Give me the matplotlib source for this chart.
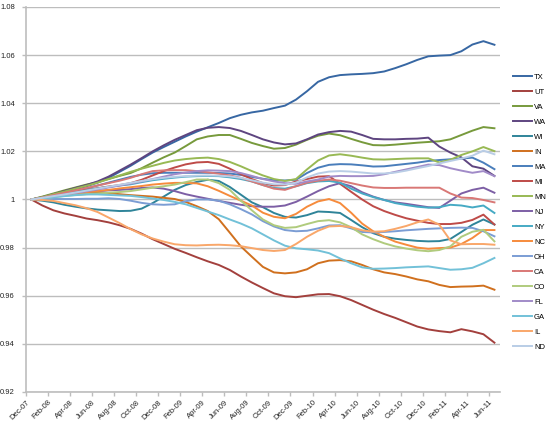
import numpy as np
import matplotlib
matplotlib.use("Agg")
import matplotlib.pyplot as plt

plt.rcParams['font.family'] = ['Liberation Sans', 'DejaVu Sans']

# tick labels, every second month from Dec-07 to Jun-11
month_labels = ["Dec-07", "Feb-08", "Apr-08", "Jun-08", "Aug-08", "Oct-08", "Dec-08",
                "Feb-09", "Apr-09", "Jun-09", "Aug-09", "Oct-09", "Dec-09", "Feb-10",
                "Apr-10", "Jun-10", "Aug-10", "Oct-10", "Dec-10", "Feb-11", "Apr-11",
                "Jun-11"]

# monthly index values (Dec-07 = 1)
tx = [1.0000, 1.0008, 1.0018, 1.0030, 1.0042, 1.0055, 1.0070, 1.0090, 1.0115, 1.0140,
      1.0168, 1.0195, 1.0218, 1.0240, 1.0262, 1.0282, 1.0300, 1.0318, 1.0338, 1.0352,
      1.0362, 1.0369, 1.0380, 1.0390, 1.0415, 1.0450, 1.0489, 1.0508, 1.0517, 1.0520,
      1.0522, 1.0525, 1.0532, 1.0546, 1.0562, 1.0580, 1.0595, 1.0598, 1.0600, 1.0616,
      1.0644, 1.0658, 1.0643]
ut = [1.0000, 0.9975, 0.9955, 0.9942, 0.9932, 0.9921, 0.9914, 0.9905, 0.9893, 0.9878,
      0.9858, 0.9835, 0.9815, 0.9795, 0.9778, 0.9760, 0.9743, 0.9728, 0.9707, 0.9680,
      0.9655, 0.9632, 0.9610, 0.9598, 0.9594, 0.9600, 0.9606, 0.9607, 0.9598, 0.9582,
      0.9562, 0.9542, 0.9524, 0.9508, 0.9490, 0.9472, 0.9460, 0.9453, 0.9448, 0.9461,
      0.9452, 0.9440, 0.9405]
va = [1.0000, 1.0012, 1.0025, 1.0038, 1.0050, 1.0062, 1.0072, 1.0085, 1.0098, 1.0110,
      1.0130, 1.0153, 1.0175, 1.0195, 1.0222, 1.0250, 1.0262, 1.0268, 1.0268, 1.0252,
      1.0235, 1.0222, 1.0211, 1.0214, 1.0228, 1.0248, 1.0265, 1.0274, 1.0267, 1.0252,
      1.0238, 1.0226, 1.0225, 1.0228, 1.0232, 1.0236, 1.0239, 1.0242, 1.0250, 1.0268,
      1.0286, 1.0301, 1.0296]
wa = [1.0000, 1.0010, 1.0022, 1.0035, 1.0048, 1.0060, 1.0075, 1.0095, 1.0120, 1.0145,
      1.0172, 1.0200, 1.0225, 1.0248, 1.0268, 1.0288, 1.0298, 1.0301, 1.0297, 1.0285,
      1.0268, 1.0250, 1.0237, 1.0229, 1.0233, 1.0250, 1.0270, 1.0280, 1.0285, 1.0282,
      1.0268, 1.0252, 1.0250, 1.0250, 1.0252, 1.0253, 1.0257, 1.0220, 1.0195, 1.0175,
      1.0138, 1.0128, 1.0098]
wi = [1.0000, 0.9995, 0.9988, 0.9978, 0.9970, 0.9963, 0.9958, 0.9955, 0.9952, 0.9953,
      0.9962, 0.9985, 1.0012, 1.0040, 1.0060, 1.0073, 1.0082, 1.0077, 1.0052, 1.0020,
      0.9988, 0.9968, 0.9944, 0.9928, 0.9925, 0.9935, 0.9950, 0.9948, 0.9944, 0.9915,
      0.9885, 0.9860, 0.9845, 0.9837, 0.9832, 0.9828, 0.9826, 0.9827, 0.9836, 0.9865,
      0.9895, 0.9917, 0.9896]
in_ = [1.0000, 1.0006, 1.0012, 1.0018, 1.0024, 1.0028, 1.0030, 1.0027, 1.0022, 1.0018,
       1.0015, 1.0012, 1.0007, 1.0002, 0.9990, 0.9972, 0.9952, 0.9918, 0.9862, 0.9805,
       0.9762, 0.9720, 0.9697, 0.9693, 0.9697, 0.9710, 0.9735, 0.9746, 0.9748, 0.9743,
       0.9728, 0.9710, 0.9697, 0.9690, 0.9680, 0.9668, 0.9660, 0.9645, 0.9636, 0.9638,
       0.9639, 0.9642, 0.9625]
ma = [1.0000, 1.0008, 1.0017, 1.0026, 1.0036, 1.0046, 1.0058, 1.0070, 1.0082, 1.0094,
      1.0103, 1.0109, 1.0111, 1.0111, 1.0111, 1.0111, 1.0111, 1.0110, 1.0108, 1.0102,
      1.0094, 1.0086, 1.0080, 1.0079, 1.0082, 1.0110, 1.0132, 1.0144, 1.0147, 1.0146,
      1.0142, 1.0137, 1.0138, 1.0143, 1.0148, 1.0153, 1.0160, 1.0164, 1.0167, 1.0170,
      1.0174, 1.0153, 1.0126]
mi = [1.0000, 1.0008, 1.0016, 1.0024, 1.0032, 1.0040, 1.0047, 1.0054, 1.0060, 1.0068,
      1.0082, 1.0100, 1.0118, 1.0133, 1.0146, 1.0154, 1.0156, 1.0148, 1.0128, 1.0105,
      1.0085, 1.0068, 1.0058, 1.0060, 1.0075, 1.0085, 1.0095, 1.0097, 1.0065, 1.0032,
      1.0000, 0.9972, 0.9952, 0.9936, 0.9922, 0.9912, 0.9903, 0.9898, 0.9898, 0.9903,
      0.9915, 0.9937, 0.9896]
mn = [1.0000, 1.0010, 1.0022, 1.0033, 1.0045, 1.0057, 1.0070, 1.0085, 1.0100, 1.0115,
      1.0128, 1.0140, 1.0152, 1.0162, 1.0168, 1.0172, 1.0174, 1.0168, 1.0156, 1.0138,
      1.0118, 1.0100, 1.0085, 1.0077, 1.0085, 1.0125, 1.0162, 1.0183, 1.0188, 1.0182,
      1.0174, 1.0167, 1.0166, 1.0168, 1.0170, 1.0171, 1.0171, 1.0154, 1.0165, 1.0185,
      1.0200, 1.0218, 1.0201]
nj = [1.0000, 1.0005, 1.0012, 1.0020, 1.0027, 1.0032, 1.0035, 1.0038, 1.0040, 1.0043,
      1.0048, 1.0050, 1.0045, 1.0035, 1.0022, 1.0012, 1.0003, 0.9994, 0.9986, 0.9978,
      0.9972, 0.9970, 0.9970, 0.9975, 0.9990, 1.0012, 1.0035, 1.0055, 1.0068, 1.0055,
      1.0030, 1.0012, 0.9998, 0.9988, 0.9982, 0.9975, 0.9968, 0.9965, 0.9995, 1.0025,
      1.0040, 1.0049, 1.0028]
ny = [1.0000, 1.0006, 1.0014, 1.0022, 1.0030, 1.0038, 1.0046, 1.0052, 1.0058, 1.0063,
      1.0072, 1.0080, 1.0086, 1.0091, 1.0095, 1.0097, 1.0098, 1.0097, 1.0092, 1.0085,
      1.0075, 1.0060, 1.0048, 1.0045, 1.0055, 1.0068, 1.0075, 1.0077, 1.0070, 1.0045,
      1.0025, 1.0010, 0.9998, 0.9985, 0.9977, 0.9970, 0.9966, 0.9968, 0.9978, 0.9975,
      0.9967, 0.9975, 0.9944]
nc = [1.0000, 1.0006, 1.0012, 1.0018, 1.0024, 1.0030, 1.0035, 1.0040, 1.0046, 1.0051,
      1.0056, 1.0062, 1.0066, 1.0069, 1.0069, 1.0067, 1.0055, 1.0036, 1.0015, 0.9995,
      0.9975, 0.9945, 0.9928, 0.9922, 0.9940, 0.9970, 0.9992, 1.0002, 0.9985, 0.9945,
      0.9900, 0.9868, 0.9845, 0.9825, 0.9812, 0.9800, 0.9795, 0.9798, 0.9800, 0.9815,
      0.9840, 0.9873, 0.9873]
oh = [1.0000, 1.0001, 1.0002, 1.0002, 1.0002, 1.0003, 1.0003, 1.0005, 1.0002, 0.9995,
      0.9986, 0.9980, 0.9978, 0.9980, 0.9993, 1.0000, 1.0000, 0.9995, 0.9980, 0.9960,
      0.9938, 0.9910, 0.9888, 0.9873, 0.9868, 0.9870, 0.9880, 0.9892, 0.9893, 0.9880,
      0.9865, 0.9863, 0.9865, 0.9868, 0.9872, 0.9875, 0.9878, 0.9880, 0.9882, 0.9883,
      0.9882, 0.9868, 0.9847]
ca = [1.0000, 1.0008, 1.0018, 1.0028, 1.0038, 1.0048, 1.0058, 1.0068, 1.0078, 1.0090,
      1.0105, 1.0118, 1.0121, 1.0122, 1.0122, 1.0118, 1.0113, 1.0107, 1.0100, 1.0090,
      1.0075, 1.0060, 1.0045, 1.0040, 1.0055, 1.0070, 1.0078, 1.0083, 1.0078, 1.0068,
      1.0058, 1.0050, 1.0048, 1.0048, 1.0049, 1.0049, 1.0049, 1.0049, 1.0025, 1.0008,
      1.0006, 0.9998, 0.9988]
co = [1.0000, 1.0005, 1.0010, 1.0015, 1.0019, 1.0022, 1.0025, 1.0028, 1.0031, 1.0035,
      1.0042, 1.0049, 1.0055, 1.0062, 1.0072, 1.0083, 1.0083, 1.0068, 1.0040, 0.9995,
      0.9955, 0.9917, 0.9893, 0.9882, 0.9885, 0.9898, 0.9910, 0.9914, 0.9905, 0.9885,
      0.9855, 0.9835, 0.9818, 0.9805, 0.9796, 0.9789, 0.9785, 0.9790, 0.9805, 0.9845,
      0.9866, 0.9874, 0.9826]
fl = [1.0000, 1.0006, 1.0013, 1.0020, 1.0027, 1.0034, 1.0042, 1.0050, 1.0058, 1.0066,
      1.0075, 1.0085, 1.0095, 1.0105, 1.0112, 1.0118, 1.0121, 1.0120, 1.0118, 1.0110,
      1.0098, 1.0085, 1.0075, 1.0068, 1.0065, 1.0075, 1.0083, 1.0095, 1.0098, 1.0097,
      1.0097, 1.0098, 1.0105, 1.0115, 1.0125, 1.0135, 1.0145, 1.0143, 1.0130, 1.0120,
      1.0111, 1.0118, 1.0097]
ga = [1.0000, 1.0004, 1.0009, 1.0014, 1.0018, 1.0021, 1.0021, 1.0019, 1.0017, 1.0015,
      1.0010, 1.0004, 0.9998, 0.9990, 0.9980, 0.9965, 0.9950, 0.9935, 0.9917, 0.9900,
      0.9880, 0.9855, 0.9830, 0.9808, 0.9797, 0.9793, 0.9788, 0.9777, 0.9755, 0.9735,
      0.9718, 0.9712, 0.9713, 0.9715, 0.9718, 0.9720, 0.9722, 0.9715, 0.9708, 0.9710,
      0.9716, 0.9735, 0.9757]
il = [1.0000, 0.9998, 0.9994, 0.9985, 0.9976, 0.9964, 0.9948, 0.9925, 0.9902, 0.9877,
      0.9855, 0.9838, 0.9825, 0.9814, 0.9810, 0.9809, 0.9811, 0.9812, 0.9810, 0.9806,
      0.9798, 0.9790, 0.9786, 0.9790, 0.9815, 0.9845, 0.9870, 0.9888, 0.9890, 0.9885,
      0.9872, 0.9866, 0.9868, 0.9878, 0.9890, 0.9905, 0.9917, 0.9895, 0.9830, 0.9814,
      0.9815, 0.9815, 0.9812]
nd = [1.0000, 1.0007, 1.0014, 1.0021, 1.0029, 1.0037, 1.0045, 1.0053, 1.0061, 1.0069,
      1.0077, 1.0084, 1.0090, 1.0094, 1.0097, 1.0099, 1.0100, 1.0099, 1.0096, 1.0090,
      1.0080, 1.0070, 1.0063, 1.0062, 1.0070, 1.0092, 1.0108, 1.0116, 1.0118, 1.0116,
      1.0112, 1.0108, 1.0108, 1.0112, 1.0120, 1.0130, 1.0139, 1.0150, 1.0160, 1.0170,
      1.0182, 1.0203, 1.0188]

states = ["TX", "UT", "VA", "WA", "WI", "IN", "MA", "MI", "MN", "NJ",
          "NY", "NC", "OH", "CA", "CO", "FL", "GA", "IL", "ND"]
series = [tx, ut, va, wa, wi, in_, ma, mi, mn, nj, ny, nc, oh, ca, co, fl, ga, il, nd]
colors = ["#3767a3", "#a3403d", "#779a3c", "#5e4580", "#2f8499", "#d0701e",
          "#4a7ebb", "#be4b48", "#98b954", "#7d5fa5", "#46aac4", "#f68b3c",
          "#7b9dd4", "#d97876", "#b0cb7d", "#a18bc8", "#72c1d8", "#f9a76a",
          "#b9cde6"]

fig = plt.figure(figsize=(5.5, 4.24), dpi=100)
ax = fig.add_axes([0.047, 0.0755, 0.862, 0.908])

x = np.arange(len(tx))
for name, vals, col in zip(states, series, colors):
    ax.plot(x, vals, color=col, lw=1.4, label=name, solid_joinstyle='round')

ax.set_xlim(-0.5, len(tx) - 0.5)
ax.set_ylim(0.92, 1.08)
yt = np.arange(0.92, 1.0801, 0.02)
ax.set_yticks(yt)
ax.set_yticklabels([("%.2f" % v).rstrip('0').rstrip('.') for v in yt])
ax.yaxis.grid(True, color='#bdbdbd', lw=1.0)
ax.set_axisbelow(True)

ax.set_xticks(np.arange(len(month_labels)) * 2 - 0.5)
ax.set_xticklabels(month_labels, rotation=45, ha='right', va='top',
                   rotation_mode='anchor')

for s in ['top', 'right']:
    ax.spines[s].set_visible(False)
for s in ['left', 'bottom']:
    ax.spines[s].set_color('#bdbdbd')
    ax.spines[s].set_linewidth(1.2)
ax.tick_params(axis='both', colors='#bdbdbd', labelcolor='#222222',
               labelsize=5.5, length=3, width=1)
ax.tick_params(axis='y', pad=5)
ax.tick_params(axis='x', pad=2)

fig.legend(loc='center left', bbox_to_anchor=(0.925, 0.5), frameon=False,
           fontsize=5.5, handlelength=2.6, handletextpad=0.2,
           labelspacing=1.0, borderpad=0)

fig.savefig("out.png", dpi=100)
